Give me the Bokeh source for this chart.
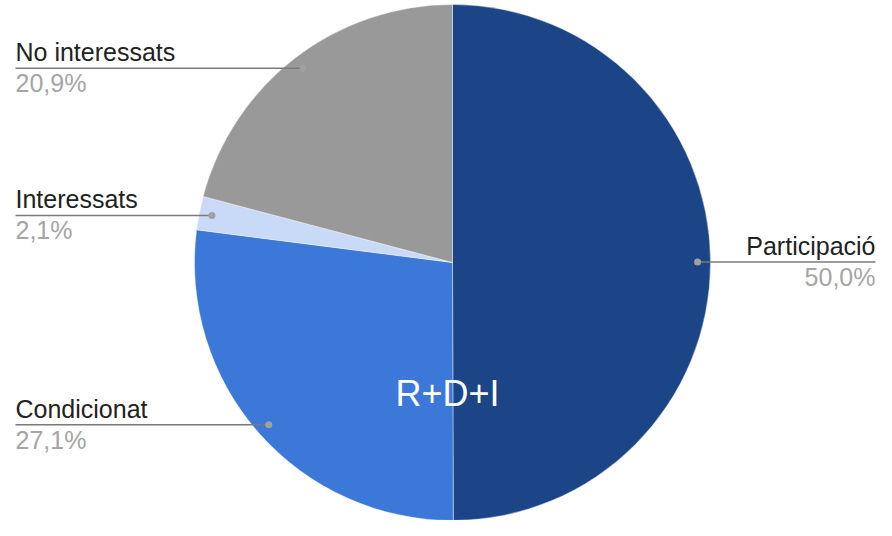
import numpy as np
from bokeh.plotting import figure
from bokeh.models import ColumnDataSource, Range1d
from bokeh.core.properties import value
from bokeh.embed import file_html
from bokeh.resources import INLINE

# ---- data ----
categories = ["Participació", "Condicionat", "Interessats", "No interessats"]
values = [50.0, 27.1, 2.1, 20.9]
colors = ["#1c4587", "#3c78d8", "#c9daf8", "#999999"]
center_label = "R+D+I"

# ---- layout ----
W, H = 876, 520
cx, cy, R = 452, H - 262, 258
FONT = "Liberation Sans"

frac = np.array(values) / sum(values)
cum = np.concatenate([[0.0], np.cumsum(frac)])
start = np.pi / 2 - 2 * np.pi * cum[:-1]
end = np.pi / 2 - 2 * np.pi * cum[1:]
mid = (start + end) / 2

pct = [f"{v:.1f}".replace(".", ",") + "%" for v in values]

dot_x = cx + 0.95 * R * np.cos(mid)
dot_y = cy + 0.95 * R * np.sin(mid)
right = np.cos(mid) > 0
edge_x = np.where(right, 875, 15)

p = figure(width=W, height=H, output_backend="svg", toolbar_location=None,
           x_range=Range1d(0, W), y_range=Range1d(0, H),
           x_axis_location=None, y_axis_location=None, min_border=0)
p.grid.visible = False
p.outline_line_color = None
p.background_fill_color = "white"
p.border_fill_color = "white"

src = ColumnDataSource(dict(cat=categories, start=start, end=end, color=colors))
p.wedge(x=cx, y=cy, radius=R, radius_units="screen", start_angle="start", end_angle="end",
        direction="clock", fill_color="color", line_color="white", line_width=0.4, source=src)

lsrc = ColumnDataSource(dict(x0=dot_x, y0=dot_y, x1=edge_x, y1=dot_y))
p.segment(x0="x0", y0="y0", x1="x1", y1="y1", line_color="#7a7a7a", line_width=1.5, source=lsrc)
p.scatter(x=dot_x, y=dot_y, size=7, fill_color="#a0a0a0", line_color=None)

for side, align in ((True, "right"), (False, "left")):
    idx = [i for i in range(len(values)) if right[i] == side]
    if not idx:
        continue
    s = ColumnDataSource(dict(
        x=[edge_x[i] for i in idx],
        yn=[dot_y[i] + 16 for i in idx],
        yp=[dot_y[i] - 15 for i in idx],
        name=[categories[i] for i in idx],
        pct=[pct[i] for i in idx],
    ))
    p.text(x="x", y="yn", text="name", source=s, text_align=align, text_baseline="alphabetic",
           text_font=value(FONT), text_font_size="25px", text_color="#222222")
    p.text(x="x", y="yp", text="pct", source=s, text_align=align, text_baseline="alphabetic",
           text_font=value(FONT), text_font_size="25px", text_color="#a5a5a5")

p.text(x=[cx - 5], y=[cy - 0.56 * R + 13], text=[center_label], text_align="center",
       text_baseline="alphabetic", text_font=value(FONT), text_font_size="36px", text_color="white")

open("out.html", "w").write(file_html(p, INLINE))
